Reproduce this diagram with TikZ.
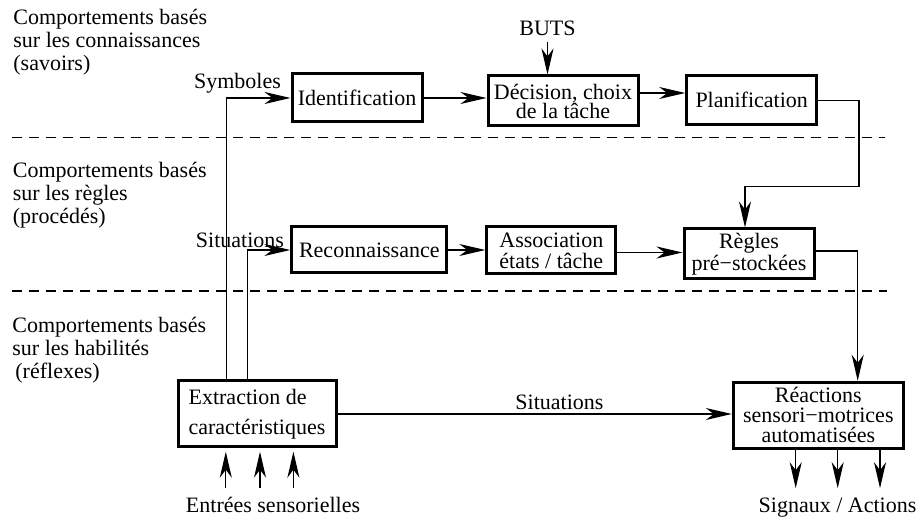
\documentclass[tikz,border=0pt]{standalone}
\usepackage{fontspec}
\setmainfont{Liberation Serif}
\usetikzlibrary{arrows.meta}

\begin{document}
\begin{tikzpicture}[x=0.5pt, y=-0.5pt,
    every node/.style={font=\fontsize{11}{9.5}\selectfont},
    box/.style={draw, line width=1.5pt, inner sep=1pt, align=center},
    zone/.style={anchor=north west, inner sep=0pt, align=left, font=\fontsize{11}{11.5}\selectfont},
    arr/.style={line width=0.65pt, -{Stealth[length=13pt, width=6pt, inset=4pt]}},
    sep/.style={line width=0.7pt, dash pattern=on 5pt off 3.5pt}]
      \useasboundingbox (0,0) rectangle (919,522);

      \node[zone] (zone1) at (13,9) {Comportements basés\\sur les connaissances\\(savoirs)};
      \node[zone] (zone2) at (12.5,162) {Comportements basés\\sur les règles\\(procédés)};
      \node[zone] (zone3) at (12,317) {Comportements basés\\sur les habilités\\\hspace*{1.5pt}(réflexes)};

      \draw[sep] (12,137.3) -- (885,137.3);
      \draw[sep] (12,291) -- (887,291);

      \node[box, minimum width=65pt, minimum height=24pt] (ident) at (357,98) {Identification};
      \node[box, minimum width=75pt, minimum height=25pt] (decision) at (563,101) {Décision, choix\\de la tâche};
      \node[box, minimum width=65pt, minimum height=24.5pt] (planif) at (751.7,100.3) {Planification};
      \node[box, minimum width=77.5pt, minimum height=23pt] (recon) at (369.3,250) {Reconnaissance};
      \node[box, minimum width=64.5pt, minimum height=23.5pt, font=\fontsize{11}{10.5}\selectfont] (assoc) at (551.3,250.5) {Association\\états / tâche};
      \node[box, minimum width=65pt, minimum height=25pt, font=\fontsize{11}{9.5}\selectfont] (regles) at (749,254) {Règles\\pré−stockées};
      \node[box, minimum width=79pt, minimum height=33pt, align=left, font=\fontsize{11}{15}\selectfont] (extract) at (257,414) {Extraction de\\caractéristiques};
      \node[box, minimum width=85pt, minimum height=33pt, font=\fontsize{11}{10}\selectfont] (reactions) at (818.3,415.3) {Réactions\\sensori−motrices\\automatisées};

      \node (buts) at (547.5,28) {BUTS};
      \node (symb) at (237.5,83.3) {Symboles};
      \node (sit1) at (240,240.5) {Situations};
      \node (entrees) at (273,504.5) {Entrées sensorielles};
      \node (signaux) at (837.5,507.5) {Signaux / Actions};

      \coordinate (bend) at (859,186.7);

      \draw[arr] ([xshift=-15.2pt]extract.north) |- (ident.west);
      \draw[arr] ([xshift=-4.7pt]extract.north) |- (recon.west);
      \draw[arr] (ident.east) -- (ident.east -| decision.west);
      \draw[arr] ([yshift=4pt]decision.east) -- ([yshift=4pt]decision.east -| planif.west);
      \draw[arr] (buts) -- (buts |- decision.north);
      \draw[arr] (planif.east) -| (bend) -| ([xshift=-2pt]regles.north);
      \draw[arr] (recon.east) -- (recon.east -| assoc.west);
      \draw[arr] ([yshift=-1pt]assoc.east) -- ([yshift=-1pt]assoc.east -| regles.west);
      \draw[arr] ([yshift=1.5pt]regles.east) -| ([xshift=19.7pt]reactions.north);
      \draw[arr] (extract.east) -- (extract.east -| reactions.west) node[above, pos=0.563, inner sep=2pt] (sit2) {Situations};

      \foreach \dx in {-15.6,1.5,18.2}
        \draw[arr] ([xshift=\dx pt, yshift=-20pt]extract.south) -- ([xshift=\dx pt, yshift=-1.6pt]extract.south);
      \foreach \dx in {-11.3,9.7,30.85}
        \draw[arr] ([xshift=\dx pt]reactions.south) -- ([xshift=\dx pt, yshift=-19.2pt]reactions.south);
    \end{tikzpicture}
\end{document}
